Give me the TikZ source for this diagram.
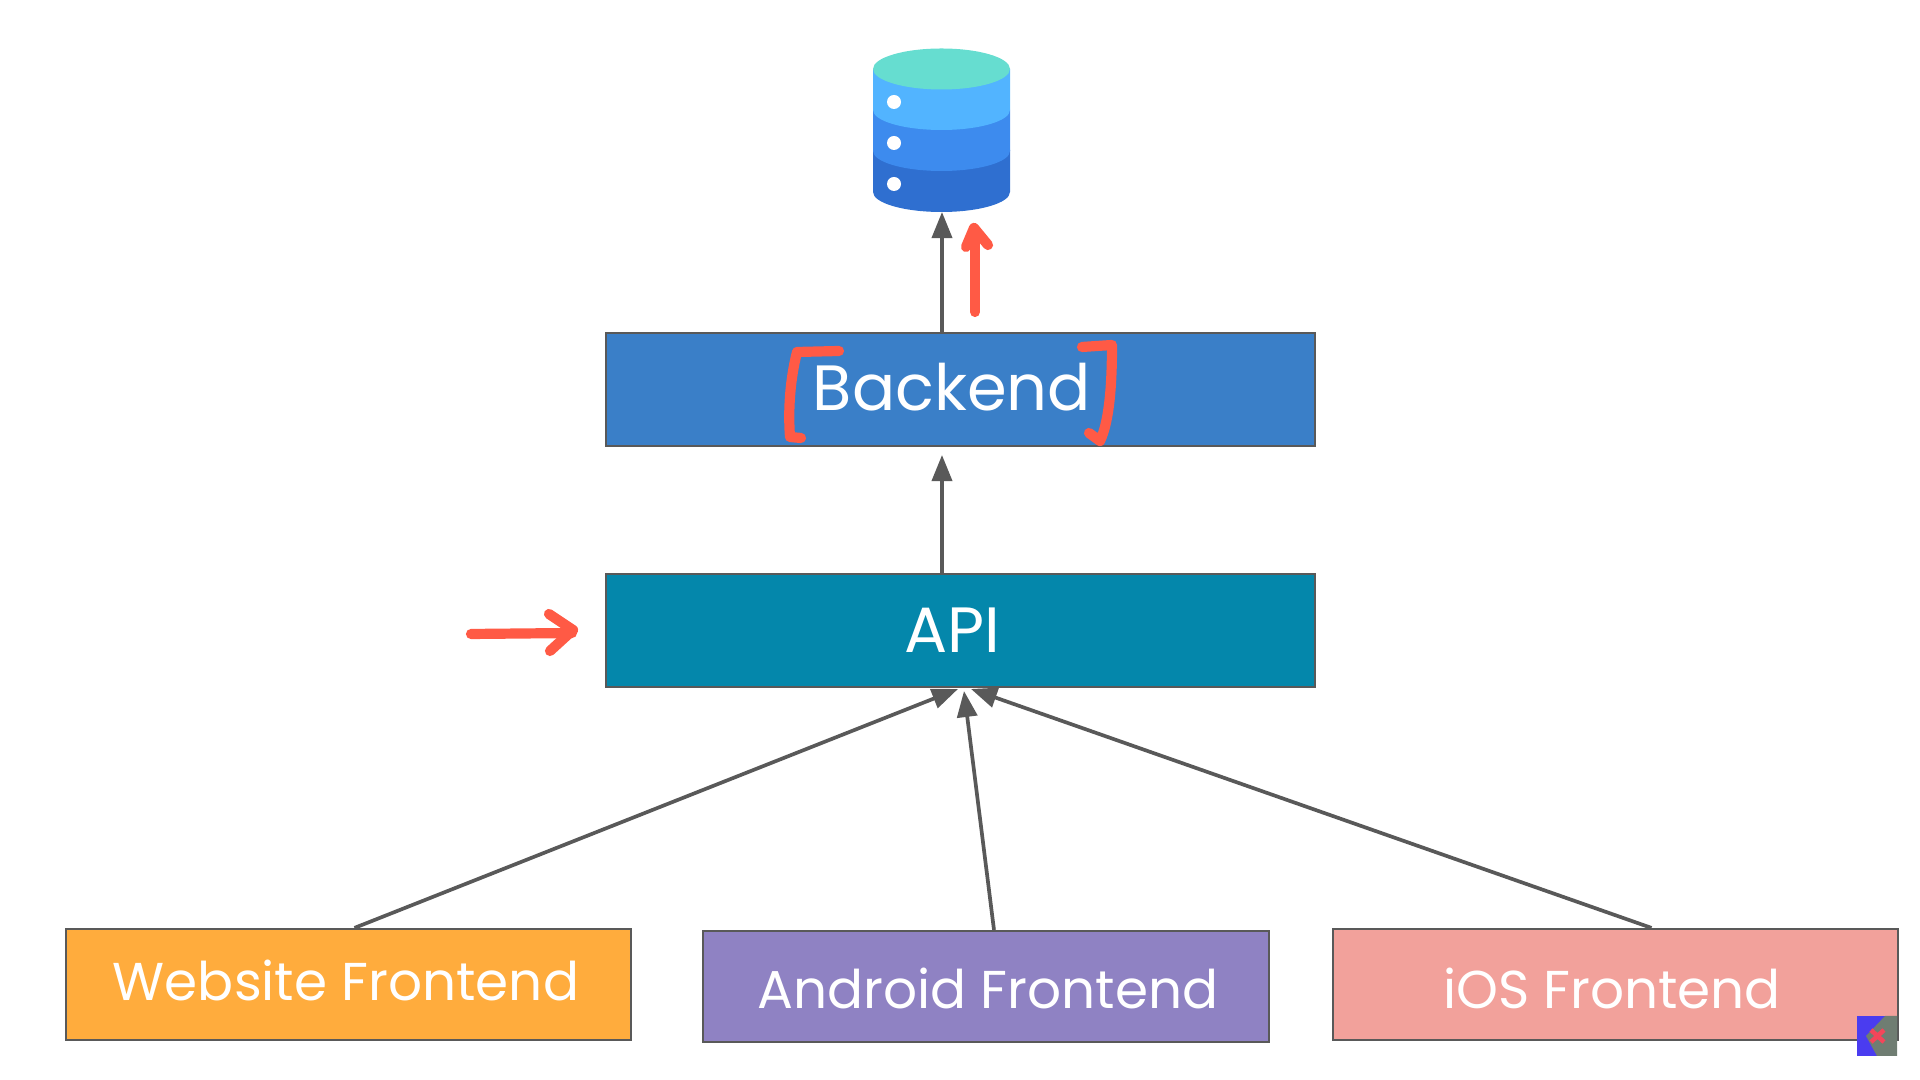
\documentclass[tikz,border=0pt]{standalone}
\usepackage{fontspec}
\setmainfont{Poppins}
\usetikzlibrary{calc}
\usetikzlibrary{arrows.meta}
\definecolor{backendblue}{HTML}{3A7FC8}
\definecolor{apiteal}{HTML}{0487AB}
\definecolor{weborange}{HTML}{FFAC3D}
\definecolor{androidpurple}{HTML}{8F82C3}
\definecolor{iospink}{HTML}{F2A19B}
\definecolor{linegrey}{HTML}{595959}
\definecolor{penred}{HTML}{FF5A45}
\definecolor{dbtop}{HTML}{66DDD0}
\definecolor{dbone}{HTML}{52B4FF}
\definecolor{dbtwo}{HTML}{3D8BEE}
\definecolor{dbthree}{HTML}{2F6FD0}
\definecolor{markblue}{HTML}{4A3CF0}
\definecolor{markgrey}{HTML}{6F7D72}
\definecolor{markred}{HTML}{F4465A}
\tikzset{
  box/.style={draw=linegrey, line width=0.6pt, minimum width=7.09cm, minimum height=1.13cm},
  front/.style={box, minimum width=5.65cm, minimum height=1.11cm},
  boxtext/.style={text=white, inner sep=0pt, anchor=base},
  link/.style={draw=linegrey, line width=1.05pt, -{Triangle[length=0.26cm,width=0.2cm]}},
  pen/.style={draw=penred, line width=2.9pt, line cap=round, line join=round}
}
\begin{document}
\begin{tikzpicture}[x=0.01cm, y=-0.01cm]

\useasboundingbox (0,0) rectangle (1920,1080);

% database
\fill[dbthree] (873,150) -- (1010,150) -- (1010,192) arc[start angle=0, end angle=180, x radius=68.5, y radius=20] -- cycle;
\fill[dbtwo] (873,110) -- (1010,110) -- (1010,151) arc[start angle=0, end angle=180, x radius=68.5, y radius=20] -- cycle;
\fill[dbone] (873,69) -- (1010,69) -- (1010,110) arc[start angle=0, end angle=180, x radius=68.5, y radius=20] -- cycle;
\fill[dbtop] (941.5,69) ellipse[x radius=68.5, y radius=20.5];
\fill[white] (894,102) circle(7);
\fill[white] (894,143) circle(7);
\fill[white] (894,184) circle(7);
\coordinate (dbase) at (942,212);

\node[box, fill=backendblue] (backend) at (960.5,389.5) {};
\node[box, fill=apiteal] (api) at (960.5,630.5) {};
\node[front, fill=weborange] (website) at (348.5,984.5) {};
\node[front, fill=androidpurple] (android) at (986,986.5) {};
\node[front, fill=iospink] (ios) at (1615.5,984.5) {};

\node[boxtext, font=\fontsize{18.2}{22}\selectfont] (backendlabel) at (952,411) {Backend};
\node[boxtext, font=\fontsize{18.2}{22}\selectfont] (apilabel) at (952,653) {API};
\node[boxtext, font=\fontsize{15.15}{18}\selectfont] (websitelabel) at (346,1001) {Website Frontend};
\node[boxtext, font=\fontsize{15.15}{18}\selectfont] (androidlabel) at (988,1009) {Android Frontend};
\node[boxtext, font=\fontsize{15.15}{18}\selectfont] (ioslabel) at (1612,1009) {iOS Frontend};

\coordinate (backendin) at (942,455);
\coordinate (websitein) at (958,689);
\coordinate (androidin) at (964,691);
\coordinate (iosin) at (971,689);

\draw[link] (backend.north -| dbase) -- (dbase);
\draw[link] (api.north -| dbase) -- (backendin);
\draw[link] ($(website.north)+(6,0)$) -- (websitein);
\draw[link] ($(android.north)+(8,0)$) -- (androidin);
\draw[link] ($(ios.north)+(36,0)$) -- (iosin);

% pen marks
\draw[pen] (975,312) -- (975,230);
\draw[pen] (966,247) -- (974,228) -- (988,245);
\draw[pen] (839,351) -- (797,352) .. controls (790,380) and (788,410) .. (790,437) -- (801,438);
\draw[pen] (1082,347) -- (1112,345) .. controls (1112,380) and (1110,420) .. (1100,441) -- (1089,433);
\draw[pen] (471,634) -- (572,633);
\draw[pen] (549,614) -- (573,630) -- (550,651);

% corner mark
\fill[markblue] (1857,1016) rectangle (1897,1056);
\fill[markgrey] (1897,1016) -- (1885,1016) -- (1866,1036) -- (1877,1056) -- (1897,1056) -- cycle;
\draw[markred, line width=1.3pt] (1871,1030) -- (1884,1042) (1884,1030) -- (1871,1042);

\end{tikzpicture}
\end{document}
